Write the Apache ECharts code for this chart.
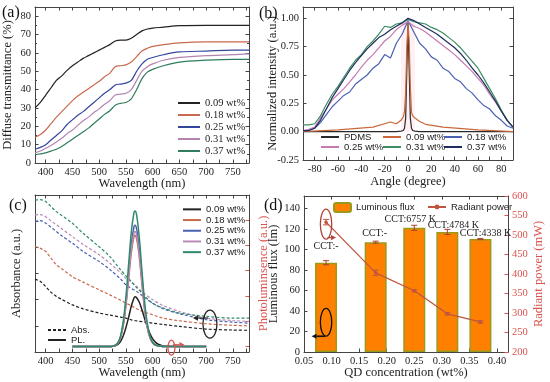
<!DOCTYPE html>
<html><head><meta charset="utf-8">
<script src="https://cdn.jsdelivr.net/npm/echarts@6/dist/echarts.min.js"></script>
<style>html,body{margin:0;padding:0;background:#fff}#c{width:550px;height:382px}</style>
</head><body><div id="c"></div>
<script>
// ---------- DATA ----------
const concLabels = ['0.09 wt%', '0.18 wt%', '0.25 wt%', '0.31 wt%', '0.37 wt%'];

// (a) diffuse transmittance
const wlA = [380,390,400,410,420,430,440,450,460,470,480,490,500,510,520,530,540,550,560,570,580,590,600,620,650,700,750,780];
const transA_009 = [30,33,37,41,45,47.5,50.5,53,55,57,58.5,60,61.5,63,64.5,66.5,67,67,68,70,72,73,73.5,74,74.8,75,75,75];
const transA_018 = [14,15.5,18,21.5,25,28,31,34,36.5,38.5,40.5,42.5,44.5,47,49,52.5,53,53.5,55,58,61,62.5,63.5,64.5,65.5,66,66,66];
const transA_025 = [7.5,8.5,10,12.5,15,17.5,21,23.5,26,28,30.5,33,35.5,38,40,42.5,43,43.5,45,50,54,56.5,57.5,59,60.5,61,61.5,61.5];
const transA_031 = [5.5,6.5,8,9.5,11.5,13.5,16,18,20.5,23,25,27.5,29.5,32,34,37,37.5,38,40,45,50,52.5,54,56,57.5,58.5,59,59.5];
const transA_037 = [4.5,5,5.5,6.5,7.5,9,11,13,15,17,19,21.5,24,26.5,28.5,31.5,32.5,33,35,40,46,49.5,51,53,55,56,56.5,56.5];

// (b) angular intensity
const angB = [-90,-85,-80,-75,-70,-65,-60,-55,-50,-45,-40,-35,-30,-25,-20,-15,-10,-5,0,5,10,15,20,25,30,35,40,45,50,55,60,65,70,75,80,85,90];
const intB_018 = [0.01,0.01,0.03,0.08,0.15,0.22,0.27,0.32,0.35,0.42,0.46,0.5,0.56,0.6,0.68,0.65,0.78,0.86,0.98,0.88,0.78,0.73,0.66,0.63,0.56,0.53,0.47,0.44,0.38,0.34,0.28,0.23,0.2,0.14,0.1,0.05,0.03];
const intB_025 = [0.01,0.02,0.04,0.12,0.2,0.28,0.33,0.38,0.44,0.5,0.57,0.63,0.68,0.74,0.8,0.84,0.9,0.94,0.97,0.93,0.91,0.88,0.84,0.8,0.76,0.72,0.68,0.63,0.58,0.53,0.47,0.41,0.33,0.26,0.18,0.1,0.04];
const intB_031 = [0.06,0.06,0.07,0.14,0.24,0.33,0.4,0.48,0.56,0.63,0.68,0.75,0.8,0.86,0.93,0.92,0.95,0.96,0.99,0.97,0.96,0.95,0.92,0.9,0.87,0.83,0.79,0.74,0.68,0.62,0.56,0.47,0.38,0.29,0.19,0.1,0.04];
const intB_037 = [0.01,0.01,0.03,0.1,0.2,0.3,0.38,0.46,0.54,0.61,0.67,0.73,0.78,0.83,0.86,0.9,0.93,0.96,1.0,0.98,0.95,0.92,0.89,0.86,0.82,0.78,0.74,0.69,0.63,0.56,0.5,0.43,0.35,0.27,0.18,0.1,0.04];
const angP = [-90,-60,-30,-15,-10,-6,-4,-3,-2,-1,0,1,2,3,4,6,10,15,30,60,90];
const intB_PDMS = [0,0,0,0,0,0.005,0.01,0.03,0.12,0.55,0.96,0.55,0.12,0.03,0.01,0.005,0,0,0,0,0];
const intB_009 = [0,0.015,0.04,0.085,0.07,0.1,0.13,0.18,0.35,0.75,0.95,0.8,0.4,0.17,0.14,0.12,0.09,0.065,0.04,0.015,0];

// (c) absorbance (dashed) and PL (solid)
const wlC = [380,390,400,410,420,430,450,470,500,520,540,550,560,570,580,600,620,650,700,750,780];
const absC_009 = [46.4,44.9,41.7,38,35.4,33.5,30,27.5,24.8,23.5,22.2,21.6,20.5,19.8,19.3,18.4,17.5,16.3,14.6,14,13.8];
const absC_018 = [67.2,66,64,59.7,55.5,53,48,44.5,39.6,36.4,33,31.1,29.5,27.5,26,23.7,21.5,19.9,18,17,16.7];
const absC_025 = [83,83.7,82,79.5,76.7,74,69.3,64,57.6,52.5,46.5,42.8,40.5,38.6,36,31,27.5,24.4,20.6,19,18.4];
const absC_031 = [87.3,87.5,86.2,83.5,81,78.5,73.5,68.5,61.9,56.5,50.5,47,44.5,41.7,38.5,33.3,29.5,25.8,21.6,20,19.5];
const absC_037 = [96.8,97,95.8,92.6,89.4,87,82,75.6,67,60.8,52.3,48.5,44.9,41,37.5,31,28,24.8,22.7,21.6,21.6];
const plWl = [450,500,520,525,530,535,540,545,550,555,560,565,567,570,575,580,585,590,595,600,605,610,615,620,630,650,700];
const plC_009 = [0,0,0,0.01,0.03,0.08,0.2,0.42,0.75,1.15,1.6,1.92,1.97,1.93,1.75,1.45,1.1,0.78,0.5,0.3,0.17,0.09,0.05,0.02,0.005,0,0];
const plC_018 = [0,0,0,0.01,0.04,0.12,0.35,0.82,1.62,2.67,3.71,4.35,4.4,4.26,3.53,2.44,1.43,0.74,0.33,0.13,0.05,0.02,0.01,0,0,0,0];
const plC_025 = [0,0,0,0.01,0.045,0.13,0.38,0.89,1.76,2.91,4.05,4.74,4.8,4.65,3.84,2.66,1.56,0.8,0.36,0.14,0.05,0.03,0.01,0,0,0,0];
const plC_031 = [0,0,0,0.01,0.04,0.13,0.36,0.85,1.67,2.76,3.84,4.49,4.55,4.4,3.64,2.52,1.48,0.76,0.34,0.14,0.05,0.025,0.01,0,0,0,0];
const plC_037 = [0,0,0,0.01,0.05,0.15,0.43,1.0,1.97,3.26,4.53,5.3,5.37,5.2,4.3,2.98,1.75,0.9,0.4,0.16,0.06,0.03,0.01,0,0,0,0];

// (d) luminous flux & radiant power
const qdConc = [0.09, 0.18, 0.25, 0.31, 0.37];
const lumFlux = [87, 107, 121, 117, 110];
const lumFluxErr = [2, 1, 2.5, 2.5, 0.5];
const radPower = [533, 403, 357, 298, 277];
const radPowerErr = [7, 7, 3, 3, 3];
const cctLabels = ['CCT:-', 'CCT:-', 'CCT:6757 K', 'CCT:4784 K', 'CCT:4338 K'];

// tick label lists
const wlLabelTicks = [400,450,500,550,600,650,700,750];
const wlMinorTicks = [400,425,450,475,500,525,550,575,600,625,650,675,700,725,750,775];

// ---------- STYLE ----------
const SERIF = '"Liberation Serif","Times New Roman",serif';
const SANS = '"Liberation Sans",Arial,sans-serif';
const AX = '#444';
const RED = '#d9534f';
const colA = ['#222222', '#c9694e', '#34479c', '#b384b0', '#2f7d5c'];
const colB = ['#2a2a2a', '#c9693a', '#4a60b3', '#c47bb2', '#3b8d62', '#1e2d5c'];
const colC = ['#222222', '#c9694e', '#4a60b3', '#b78ab8', '#2e8a68'];

const zip = (xs, ys) => xs.map((x, i) => [x, ys[i]]);
const stripName = n => n.split('|').pop();

function axis(base, extra) {
  const o = Object.assign({
    type: 'value',
    splitLine: { show: false },
    axisLine: { show: true, onZero: false, lineStyle: { color: AX, width: 1 } },
    axisTick: { show: true, inside: true, length: 3.5, lineStyle: { color: AX } },
    axisLabel: { fontFamily: SERIF, fontSize: 10.5, color: '#222', margin: 4 },
    nameLocation: 'middle',
    nameMoveOverlap: false,
    nameTextStyle: { fontFamily: SERIF, fontSize: 12.5, color: '#222' }
  }, base);
  if (extra) {
    for (const k in extra) {
      if (o[k] && typeof o[k] === 'object' && !Array.isArray(o[k]) && typeof extra[k] === 'object' && !Array.isArray(extra[k])) {
        o[k] = Object.assign({}, o[k], extra[k]);
      } else o[k] = extra[k];
    }
  }
  return o;
}
const noLabel = { axisLabel: { show: false } };

const grids = [
  { left: 35, top: 7, width: 214, height: 156 },   // a
  { left: 303, top: 7, width: 210, height: 153 },  // b
  { left: 35, top: 195, width: 214, height: 157 }, // c
  { left: 304, top: 196, width: 204, height: 156 } // d
];

const wlAxisExtra = {
  axisLabel: { customValues: wlLabelTicks },
  axisTick: { customValues: wlMinorTicks }
};
const angExtra = {
  interval: 10,
  axisLabel: { formatter: v => (Math.abs(v) % 20 === 0 && Math.abs(v) !== 90) ? String(v) : '' }
};

const xAxes = [
  axis({ gridIndex: 0, min: 380, max: 780, name: 'Wavelength (nm)', nameGap: 14 }, wlAxisExtra),
  axis({ gridIndex: 0, min: 380, max: 780, position: 'top' }, Object.assign({}, wlAxisExtra, noLabel)),
  axis({ gridIndex: 1, min: -90, max: 90, name: 'Angle (degree)', nameGap: 15 }, angExtra),
  axis({ gridIndex: 1, min: -90, max: 90, position: 'top', interval: 10 }, noLabel),
  axis({ gridIndex: 2, min: 380, max: 780, name: 'Wavelength (nm)', nameGap: 14 }, wlAxisExtra),
  axis({ gridIndex: 2, min: 380, max: 780, position: 'top' }, Object.assign({}, wlAxisExtra, noLabel)),
  axis({ gridIndex: 3, min: 0.05, max: 0.42, interval: 0.05, name: 'QD concentration (wt%)', nameGap: 14 },
    { axisLabel: { formatter: v => v.toFixed(2), showMaxLabel: false } }),
  axis({ gridIndex: 3, min: 0.05, max: 0.42, interval: 0.05, position: 'top' }, noLabel)
];

const yAxes = [
  axis({ gridIndex: 0, min: 0, max: 85, interval: 10, name: 'Diffuse transmittance (%)', nameGap: 21,
    minorTick: { show: true, splitNumber: 2, length: 2, lineStyle: { color: AX } } },
    { axisLabel: { showMaxLabel: false } }),
  axis({ gridIndex: 0, min: 0, max: 85, interval: 10, position: 'right',
    minorTick: { show: true, splitNumber: 2, length: 2, lineStyle: { color: AX } } }, noLabel),
  axis({ gridIndex: 1, min: -0.25, max: 1.1, interval: 0.25, name: 'Normalized intensity (a.u.)', nameGap: 24 },
    { axisLabel: { showMaxLabel: false, formatter: v => v.toFixed(2) } }),
  axis({ gridIndex: 1, min: -0.25, max: 1.1, interval: 0.25, position: 'right' }, noLabel),
  axis({ gridIndex: 2, min: 0, max: 100, interval: 100 / 6, name: 'Absorbance (a.u.)', nameGap: 12 }, noLabel),
  axis({ gridIndex: 2, min: -0.22, max: 6, position: 'right', name: 'Photoluminsence (a.u.)', nameGap: 8 },
    { axisLabel: { show: false }, axisTick: { customValues: [0, 1, 2, 3, 4, 5], lineStyle: { color: RED } },
      nameTextStyle: { color: RED } }),
  axis({ gridIndex: 3, min: 0, max: 152, interval: 20, name: 'Luminous flux (lm)', nameGap: 24 },
    { axisLabel: { showMaxLabel: false } }),
  axis({ gridIndex: 3, min: 200, max: 600, interval: 50, position: 'right', name: 'Radiant power (mW)', nameGap: 24 },
    { axisLabel: { color: RED }, axisTick: { lineStyle: { color: RED } }, nameTextStyle: { color: RED } })
];

const series = [];
// (a)
[transA_009, transA_018, transA_025, transA_031, transA_037].forEach((vals, i) => {
  series.push({ type: 'line', name: 'a|' + concLabels[i], xAxisIndex: 0, yAxisIndex: 0, data: zip(wlA, vals),
    symbol: 'none', smooth: 0.3, lineStyle: { color: colA[i], width: 1.2 }, itemStyle: { color: colA[i] } });
});
// (b)
const bNames = ['PDMS'].concat(concLabels);
series.push({ type: 'line', name: 'b|PDMS', xAxisIndex: 2, yAxisIndex: 2, data: zip(angP, intB_PDMS), symbol: 'none',
  lineStyle: { color: colB[0], width: 1.2 }, itemStyle: { color: colB[0] },
  markArea: { silent: true, itemStyle: { color: 'rgba(255,160,185,0.16)' }, data: [[{ xAxis: -6, yAxis: 0 }, { xAxis: 6, yAxis: 0.97 }]] } });
series.push({ type: 'line', name: 'b|' + concLabels[0], xAxisIndex: 2, yAxisIndex: 2, data: zip(angP, intB_009), symbol: 'none',
  lineStyle: { color: colB[1], width: 1.2 }, itemStyle: { color: colB[1] } });
[intB_018, intB_025, intB_031, intB_037].forEach((vals, i) => {
  series.push({ type: 'line', name: 'b|' + concLabels[i + 1], xAxisIndex: 2, yAxisIndex: 2, data: zip(angB, vals),
    symbol: 'none', lineStyle: { color: colB[i + 2], width: 1.2 }, itemStyle: { color: colB[i + 2] } });
});
// (c) absorbance
[absC_009, absC_018, absC_025, absC_031, absC_037].forEach((vals, i) => {
  series.push({ type: 'line', name: 'cA|' + concLabels[i], xAxisIndex: 4, yAxisIndex: 4, data: zip(wlC, vals),
    symbol: 'none', smooth: 0.3, lineStyle: { color: colC[i], width: 1.2, type: [3, 2] }, itemStyle: { color: colC[i] } });
});
// (c) PL
[plC_009, plC_018, plC_025, plC_031, plC_037].forEach((vals, i) => {
  series.push({ type: 'line', name: 'c|' + concLabels[i], xAxisIndex: 4, yAxisIndex: 5, data: zip(plWl, vals),
    symbol: 'none', smooth: 0.3, lineStyle: { color: colC[i], width: 1.5 }, itemStyle: { color: colC[i] } });
});
series.push({ type: 'line', name: 'Abs.', xAxisIndex: 4, yAxisIndex: 4, data: [], symbol: 'none',
  lineStyle: { color: '#222', width: 1.3, type: [3, 2] }, itemStyle: { color: '#222' } });
series.push({ type: 'line', name: 'PL.', xAxisIndex: 4, yAxisIndex: 4, data: [], symbol: 'none',
  lineStyle: { color: '#222', width: 1.3 }, itemStyle: { color: '#222' } });
// (d)
const labelNudge = [[0, -7], [-1, 0], [-4, 1], [6, 2.5], [5, 3.5]];
series.push({ type: 'bar', name: 'Luminous flux', xAxisIndex: 6, yAxisIndex: 6, barWidth: 22,
  itemStyle: { color: '#ff8000', borderColor: '#9a9a1a', borderWidth: 1.5 },
  data: qdConc.map((x, i) => ({ value: [x, lumFlux[i]], label: { offset: labelNudge[i] } })),
  label: { show: true, position: 'top', distance: 4, fontFamily: SERIF, fontSize: 10, color: '#222',
    formatter: p => cctLabels[p.dataIndex] }, z: 2 });
function errRender(color) {
  return (params, api) => {
    const x = api.value(0), lo = api.value(1), hi = api.value(2);
    const a = api.coord([x, lo]), b = api.coord([x, hi]);
    const w = 3;
    return { type: 'group', children: [
      { type: 'line', shape: { x1: a[0], y1: a[1], x2: b[0], y2: b[1] }, style: { stroke: color, lineWidth: 1 } },
      { type: 'line', shape: { x1: a[0] - w, y1: a[1], x2: a[0] + w, y2: a[1] }, style: { stroke: color, lineWidth: 1 } },
      { type: 'line', shape: { x1: b[0] - w, y1: b[1], x2: b[0] + w, y2: b[1] }, style: { stroke: color, lineWidth: 1 } }
    ] };
  };
}
series.push({ type: 'custom', name: 'fluxErr', xAxisIndex: 6, yAxisIndex: 6, renderItem: errRender('#a8402e'),
  encode: { x: 0, y: [1, 2] }, data: qdConc.map((x, i) => [x, lumFlux[i] - lumFluxErr[i], lumFlux[i] + lumFluxErr[i]]), z: 3 });
series.push({ type: 'line', name: 'Radiant power', xAxisIndex: 6, yAxisIndex: 7, data: zip(qdConc, radPower),
  symbol: 'circle', symbolSize: 3.5, lineStyle: { color: '#c0553f', width: 1.3 }, itemStyle: { color: '#c0553f' }, z: 4 });
series.push({ type: 'custom', name: 'powErr', xAxisIndex: 6, yAxisIndex: 7, renderItem: errRender('#c0553f'),
  encode: { x: 0, y: [1, 2] }, data: qdConc.map((x, i) => [x, radPower[i] - radPowerErr[i], radPower[i] + radPowerErr[i]]), z: 4 });

// ---------- LEGENDS ----------
const hideSym = { opacity: 0 };
const legends = [];
legends.push({ data: concLabels.map(n => 'a|' + n), orient: 'vertical', left: 172, top: 92, itemWidth: 22, itemHeight: 10, itemGap: 0,
  itemStyle: hideSym, formatter: stripName, textStyle: { fontFamily: SERIF, fontSize: 10.5, color: '#222', lineHeight: 12 }, selectedMode: false });
const bPos = [[320, 132], [382, 132], [443, 132], [320, 142], [382, 142], [443, 142]];
bNames.forEach((n, i) => {
  legends.push({ data: ['b|' + n], left: bPos[i][0], top: bPos[i][1], itemWidth: 18, itemHeight: 10, padding: 0,
    itemStyle: hideSym, formatter: stripName, textStyle: { fontFamily: SANS, fontSize: 9.5, color: '#222', lineHeight: 10 }, selectedMode: false });
});
legends.push({ data: concLabels.map(n => 'c|' + n), orient: 'vertical', left: 182, top: 204, itemWidth: 18, itemHeight: 10, itemGap: 0,
  padding: 0, itemStyle: hideSym, formatter: stripName, textStyle: { fontFamily: SANS, fontSize: 9.5, color: '#222', lineHeight: 10.7 }, selectedMode: false });
legends.push({ data: ['Abs.', 'PL.'], orient: 'vertical', left: 47, top: 325, itemWidth: 18, itemHeight: 10, itemGap: 0, padding: 0,
  itemStyle: hideSym, textStyle: { fontFamily: SANS, fontSize: 9.5, color: '#222', lineHeight: 10 }, selectedMode: false });
legends.push({ data: ['Luminous flux'], left: 333, top: 202, itemWidth: 17, itemHeight: 9, padding: 0,
  textStyle: { fontFamily: SANS, fontSize: 9.5, color: '#222' }, selectedMode: false });
legends.push({ data: ['Radiant power'], left: 427, top: 202, itemWidth: 18, itemHeight: 6, padding: 0,
  textStyle: { fontFamily: SANS, fontSize: 9.5, color: '#222' }, selectedMode: false });

const chart = echarts.init(document.getElementById('c'), null, { renderer: 'canvas' });
chart.setOption({
  animation: false,
  backgroundColor: '#fff',
  grid: grids,
  xAxis: xAxes,
  yAxis: yAxes,
  legend: legends,
  series: series
});

// ---------- ANNOTATIONS (anchored through the axes) ----------
function ellipseG(c, rx, ry, color) {
  return { type: 'ellipse', shape: { cx: c[0], cy: c[1], rx: rx, ry: ry }, style: { fill: 'none', stroke: color, lineWidth: 1.3 }, z: 100 };
}
function arrowG(x1, y1, x2, y2, color, lw) {
  const ang = Math.atan2(y2 - y1, x2 - x1), L = 5, W = 2.6;
  const bx = x2 - L * Math.cos(ang), by = y2 - L * Math.sin(ang);
  const px = -Math.sin(ang) * W, py = Math.cos(ang) * W;
  return [
    { type: 'line', shape: { x1: x1, y1: y1, x2: bx, y2: by }, style: { stroke: color, lineWidth: lw }, z: 100 },
    { type: 'polygon', shape: { points: [[x2, y2], [bx + px, by + py], [bx - px, by - py]] }, style: { fill: color }, z: 100 }
  ];
}
const cAbs = chart.convertToPixel({ xAxisIndex: 4, yAxisIndex: 4 }, [707, 17.8]);
const cPL = chart.convertToPixel({ xAxisIndex: 4, yAxisIndex: 5 }, [635, -0.05]);
const dPow = chart.convertToPixel({ xAxisIndex: 6, yAxisIndex: 7 }, [qdConc[0], 528]);
const dFlux = chart.convertToPixel({ xAxisIndex: 6, yAxisIndex: 6 }, [qdConc[0], 29]);
const txt = (t, l, tp) => ({ type: 'text', left: l, top: tp, style: { text: t, font: '16px ' + SERIF, fill: '#111' }, z: 100 });
let g = [
  txt('(a)', 2, 5), txt('(b)', 259, 6), txt('(c)', 9, 198), txt('(d)', 264, 198),
  ellipseG(cAbs, 7, 14, '#222'),
  ellipseG(cPL, 3.5, 7.5, RED),
  ellipseG(dPow, 5.7, 15, '#b0443a'),
  ellipseG(dFlux, 5.7, 13.8, '#111')
];
g = g.concat(arrowG(cAbs[0] - 2, cAbs[1] - 6, cAbs[0] - 17, cAbs[1] - 6, '#222', 1.2));
g = g.concat(arrowG(cPL[0] + 1.5, cPL[1] - 3, cPL[0] + 13, cPL[1] - 3, RED, 1.2));
g = g.concat(arrowG(dPow[0] + 1.5, dPow[1] + 13.5, dPow[0] + 10, dPow[1] + 13.5, '#b0443a', 1.2));
g = g.concat(arrowG(dFlux[0] - 1, dFlux[1] + 14, dFlux[0] - 14.5, dFlux[1] + 14, '#111', 1.6));
chart.setOption({ graphic: g });
</script></body></html>
